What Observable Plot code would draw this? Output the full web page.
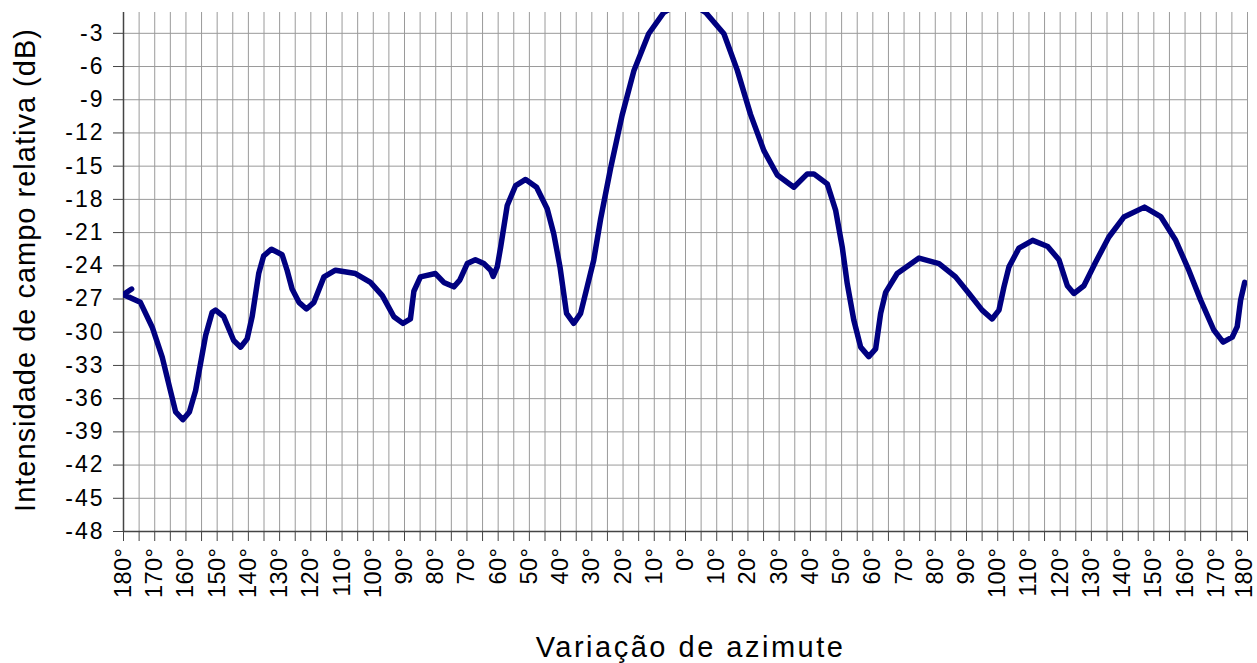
<!DOCTYPE html>
<html>
<head>
<meta charset="utf-8">
<script src="https://cdn.jsdelivr.net/npm/d3@7"></script>
<script src="https://cdn.jsdelivr.net/npm/@observablehq/plot@0.6"></script>
<style>
  html, body { margin: 0; padding: 0; background: #fff; }
</style>
</head>
<body>
<div id="chart"></div>
<script>
// Azimuth (degrees, left side negative) and relative field level (dB)
const azimuth = [
  -177.4, -180, -174.6, -170.8, -167.6, -165, -163.3, -161, -158.9, -156.9,
  -153.7, -151.6, -150.5, -147.9, -144.7, -142.5, -140.4, -138.8, -136.7, -135.1,
  -132.6, -129.2, -127.6, -126.0, -123.8, -121.4, -119.0, -115.8, -112.1, -105.7,
  -100.9, -97.1, -93.4, -90.5, -88.1, -87.0, -84.9, -80.1, -77.4, -74.2,
  -72.3, -69.9, -67.3, -64.6, -62.4, -61.6, -60.3, -59.2, -57.1, -54.4,
  -51.2, -47.7, -44.3, -42.2, -40.2, -38.1, -35.8, -33.6, -31.5, -29.4,
  -27.2, -24.0, -20.3, -16.5, -11.8, -6.9, 0,
  6.4, 12.3, 16.6, 20.8, 25.1, 29.4, 34.7, 39.0, 41.1, 45.4,
  48.1, 50.2, 51.8, 53.9, 56.1, 58.7, 60.9, 62.5, 64.1, 67.8,
  74.8, 81.2, 86.5, 90.8, 95.0, 98.2, 100.4, 102.0, 103.6, 106.8,
  111.2, 116.0, 119.6, 122.3, 124.4, 127.6, 131.3, 135.6, 140.4, 147.0,
  152.2, 157.0, 161.2, 165.0, 169.2, 172.2, 175.1, 176.7, 177.8, 179.1
];
const level = [
  -26.1, -26.6, -27.3, -29.55, -32.25, -35.26, -37.2, -37.9, -37.2, -35.26,
  -30.3, -28.2, -28.0, -28.6, -30.75, -31.35, -30.6, -28.6, -24.7, -23.1,
  -22.5, -23.0, -24.4, -26.1, -27.3, -27.9, -27.3, -25.0, -24.4, -24.7,
  -25.5, -26.7, -28.6, -29.2, -28.8, -26.3, -25.0, -24.7, -25.5, -25.9,
  -25.3, -23.8, -23.45, -23.8, -24.4, -24.96, -24.1, -22.3, -18.55, -16.75,
  -16.2, -16.9, -18.85, -21.1, -24.1, -28.3, -29.2, -28.3, -25.9, -23.5,
  -19.8, -15.2, -10.4, -6.35, -3.04, -1.1, 0,
  -1.1, -3.04, -6.35, -10.3, -13.6, -15.8, -16.9, -15.7, -15.7, -16.6,
  -19.0, -22.3, -25.6, -28.9, -31.35, -32.2, -31.5, -28.3, -26.4, -24.7,
  -23.3, -23.8, -25.0, -26.5, -28.0, -28.8, -28.0, -25.9, -24.1, -22.4,
  -21.7, -22.25, -23.45, -25.8, -26.5, -25.8, -23.7, -21.4, -19.6, -18.7,
  -19.55, -21.7, -24.4, -27.1, -29.8, -30.9, -30.45, -29.5, -27.1, -25.5
];

const xTickValues = [-180,-170,-160,-150,-140,-130,-120,-110,-100,-90,-80,-70,-60,-50,-40,-30,-20,-10,0,
  10,20,30,40,50,60,70,80,90,100,110,120,130,140,150,160,170,180];
const xTickLabels = ["180°","170°","160°","150°","140°","130°","120°","110°","100°","90°","80°","70°","60°","50°","40°","30°","20°","10°","0°",
  "10°","20°","30°","40°","50°","60°","70°","80°","90°","100°","110°","120°","130°","140°","150°","160°","170°","180°"];
const xMinorTicks = d3.range(-180, 181, 5);
const yTickValues = [-48,-45,-42,-39,-36,-33,-30,-27,-24,-21,-18,-15,-12,-9,-6,-3];
const yTickLabels = ["-48","-45","-42","-39","-36","-33","-30","-27","-24","-21","-18","-15","-12","-9","-6","-3"];

const xTitle = "Variação de azimute";
const yTitle = "Intensidade de campo relativa (dB)";

const rows = azimuth.map((a, i) => ({az: a, db: level[i]}));
const xLabelOf = new Map(xTickValues.map((v, i) => [v, xTickLabels[i]]));
const yLabelOf = new Map(yTickValues.map((v, i) => [v, yTickLabels[i]]));

const chart = Plot.plot({
  width: 1257,
  height: 663,
  marginLeft: 123,
  marginRight: 10,
  marginTop: 12,
  marginBottom: 132,
  x: {domain: [-180, 180]},
  y: {domain: [-48, -1.12]},
  style: {fontFamily: "'Liberation Sans', Arial, sans-serif", fontSize: "22px", color: "#000", background: "#fff"},
  marks: [
    Plot.gridX(xMinorTicks, {stroke: "#9a9a9a", strokeOpacity: 1, strokeWidth: 1}),
    Plot.gridY(yTickValues, {stroke: "#9a9a9a", strokeOpacity: 1, strokeWidth: 1}),
    Plot.axisY(yTickValues, {tickSize: 10, tickPadding: 9, tickFormat: d => yLabelOf.get(d), fontSize: 23, label: null, stroke: "#444"}),
    Plot.axisX(xMinorTicks, {tickSize: 10, tickFormat: () => "", label: null, stroke: "#444"}),
    Plot.axisX(xTickValues, {tickSize: 0, tickPadding: 16, tickRotate: -90, tickFormat: d => xLabelOf.get(d), fontSize: 23.5, label: null}),
    Plot.ruleX([-180], {stroke: "#444", strokeWidth: 1.5}),
    Plot.ruleY([-48], {stroke: "#444", strokeWidth: 1.5}),
    Plot.line(rows, {x: "az", y: "db", stroke: "#000080", strokeWidth: 5.5, clip: true}),
    Plot.text([xTitle], {text: d => d, frameAnchor: "bottom", dy: 116, dx: 5, fontSize: 29, lineAnchor: "middle", textAnchor: "middle"}),
    Plot.text([yTitle], {text: d => d, frameAnchor: "left", dx: -98, dy: -2, rotate: -90, fontSize: 29, lineAnchor: "middle", textAnchor: "middle"})
  ]
});
document.getElementById("chart").appendChild(chart);

const degTexts = [];
d3.select(chart).selectAll("text").each(function() {
  const t = this.textContent;
  if (t === xTitle) d3.select(this).attr("letter-spacing", "2.5px");
  else if (t === yTitle) d3.select(this).attr("letter-spacing", "1px");
  else if (yTickLabels.includes(t) && !t.includes("°")) d3.select(this).attr("letter-spacing", "2px");
  else if (t.includes("°")) { d3.select(this).attr("letter-spacing", "0.5px"); degTexts.push(this); }
});
// keep the rightmost tick label inside the picture
if (degTexts.length) {
  const last = degTexts.reduce((a, b) => (b.getBoundingClientRect().x > a.getBoundingClientRect().x ? b : a));
  const tr = last.getAttribute("transform") || "";
  last.setAttribute("transform", "translate(-3,0) " + tr);
}
</script>
</body>
</html>
